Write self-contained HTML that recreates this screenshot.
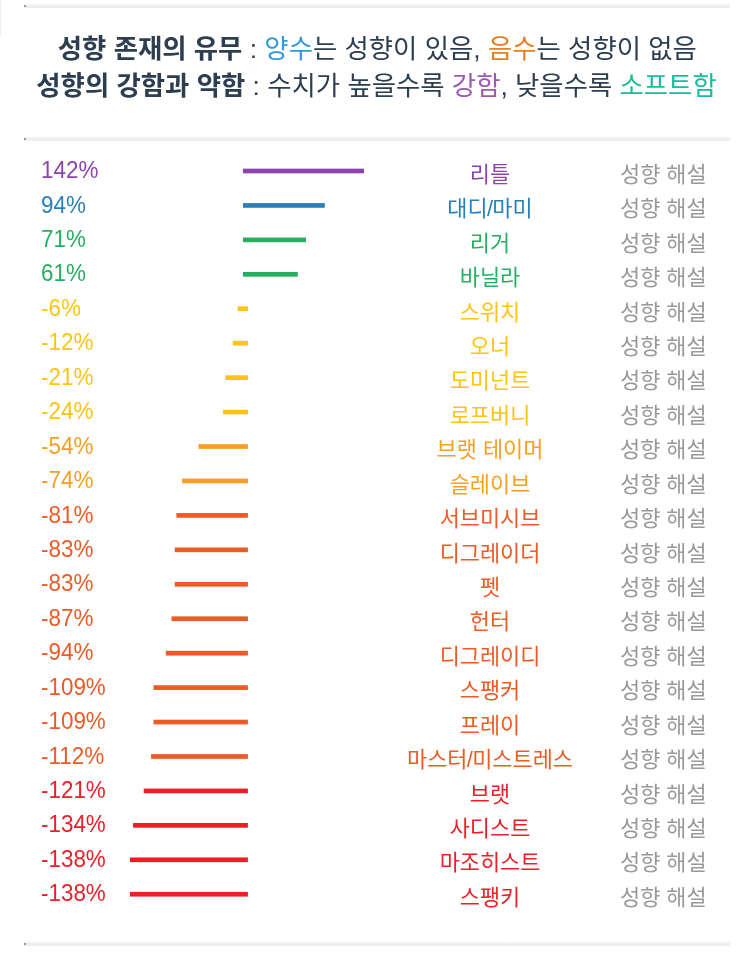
<!DOCTYPE html>
<html lang="ko"><head><meta charset="utf-8"><title>성향 결과</title>
<style>
html,body{margin:0;padding:0;background:#fff;}
body{width:750px;height:966px;position:relative;overflow:hidden;font-family:"Liberation Sans","Noto Sans CJK KR",sans-serif;}
.edge{position:absolute;left:0;top:0;width:1px;height:35px;background:#eee;}
hr{position:absolute;left:24px;width:706px;height:3.4px;margin:0;border:0;background:linear-gradient(#f6f6f6 0,#eee 45%);}
.dot{position:absolute;left:24.3px;width:1.6px;height:1.6px;background:#999;}
.head{position:absolute;left:0;width:750px;text-align:center;color:#2c3e50;font-size:26.4px;line-height:35px;white-space:nowrap;letter-spacing:0;}
.head b{color:#2c3e50;font-weight:700;}
.blue{color:#3498db}.org{color:#e67e22}.pur{color:#9b59b6}.teal{color:#1abc9c}
.row{position:absolute;left:0;width:750px;height:34.43px;line-height:34.43px;white-space:nowrap;}
.pct{position:absolute;left:40.5px;top:-0.6px;font-size:23.8px;transform:scaleX(0.942);transform-origin:0 0;}
.bars{position:absolute;left:0;top:0;}
.bars rect{fill:currentColor;}
.name i{font-style:normal;margin:0 -0.7px;}
.name{position:absolute;left:340px;width:300px;text-align:center;top:4px;font-size:21.9px;}
.desc{position:absolute;left:620px;top:4px;font-size:21.9px;color:#999;}
.c1{color:#8e44ad}.c2{color:#2980b9}.c3{color:#27ae60}.c4{color:#ffc312}.c5{color:#f79f1f}.c6{color:#ee5a24}.c7{color:#ea2027}
</style></head><body>
<div class="edge"></div>
<hr style="top:4.4px"><div class="dot" style="top:5.2px"></div>
<div class="head" style="top:32px;left:2.3px"><b>성향 존재의 유무</b> : <span class="blue">양수</span>는 성향이 있음, <span class="org">음수</span>는 성향이 없음</div>
<div class="head" style="top:68.5px;left:1.5px"><b>성향의 강함과 약함</b> : 수치가 높을수록 <span class="pur">강함</span>, 낮을수록 <span class="teal">소프트함</span></div>
<hr style="top:137.3px"><div class="dot" style="top:138.1px"></div>
<div class="row c1" style="top:153.80px"><span class="pct">142%</span><span class="name">리틀</span><span class="desc">성향 해설</span></div>
<div class="row c2" style="top:188.23px"><span class="pct">94%</span><span class="name">대디<i>/</i>마미</span><span class="desc">성향 해설</span></div>
<div class="row c3" style="top:222.66px"><span class="pct">71%</span><span class="name">리거</span><span class="desc">성향 해설</span></div>
<div class="row c3" style="top:257.09px"><span class="pct">61%</span><span class="name">바닐라</span><span class="desc">성향 해설</span></div>
<div class="row c4" style="top:291.52px"><span class="pct">-6%</span><span class="name">스위치</span><span class="desc">성향 해설</span></div>
<div class="row c4" style="top:325.95px"><span class="pct">-12%</span><span class="name">오너</span><span class="desc">성향 해설</span></div>
<div class="row c4" style="top:360.38px"><span class="pct">-21%</span><span class="name">도미넌트</span><span class="desc">성향 해설</span></div>
<div class="row c4" style="top:394.81px"><span class="pct">-24%</span><span class="name">로프버니</span><span class="desc">성향 해설</span></div>
<div class="row c5" style="top:429.24px"><span class="pct">-54%</span><span class="name">브랫 테이머</span><span class="desc">성향 해설</span></div>
<div class="row c5" style="top:463.67px"><span class="pct">-74%</span><span class="name">슬레이브</span><span class="desc">성향 해설</span></div>
<div class="row c6" style="top:498.10px"><span class="pct">-81%</span><span class="name">서브미시브</span><span class="desc">성향 해설</span></div>
<div class="row c6" style="top:532.53px"><span class="pct">-83%</span><span class="name">디그레이더</span><span class="desc">성향 해설</span></div>
<div class="row c6" style="top:566.96px"><span class="pct">-83%</span><span class="name">펫</span><span class="desc">성향 해설</span></div>
<div class="row c6" style="top:601.39px"><span class="pct">-87%</span><span class="name">헌터</span><span class="desc">성향 해설</span></div>
<div class="row c6" style="top:635.82px"><span class="pct">-94%</span><span class="name">디그레이디</span><span class="desc">성향 해설</span></div>
<div class="row c6" style="top:670.25px"><span class="pct">-109%</span><span class="name">스팽커</span><span class="desc">성향 해설</span></div>
<div class="row c6" style="top:704.68px"><span class="pct">-109%</span><span class="name">프레이</span><span class="desc">성향 해설</span></div>
<div class="row c6" style="top:739.11px"><span class="pct">-112%</span><span class="name">마스터<i>/</i>미스트레스</span><span class="desc">성향 해설</span></div>
<div class="row c7" style="top:773.54px"><span class="pct">-121%</span><span class="name">브랫</span><span class="desc">성향 해설</span></div>
<div class="row c7" style="top:807.97px"><span class="pct">-134%</span><span class="name">사디스트</span><span class="desc">성향 해설</span></div>
<div class="row c7" style="top:842.40px"><span class="pct">-138%</span><span class="name">마조히스트</span><span class="desc">성향 해설</span></div>
<div class="row c7" style="top:876.83px"><span class="pct">-138%</span><span class="name">스팽키</span><span class="desc">성향 해설</span></div>
<svg class="bars" width="750" height="966" viewBox="0 0 750 966">
<rect class="c1" x="243.0" y="168.65" width="121.0" height="4.7"/>
<rect class="c2" x="243.0" y="203.09" width="81.8" height="4.7"/>
<rect class="c3" x="243.0" y="237.53" width="63.0" height="4.7"/>
<rect class="c3" x="243.0" y="271.97" width="54.8" height="4.7"/>
<rect class="c4" x="237.7" y="306.41" width="10.2" height="4.7"/>
<rect class="c4" x="232.8" y="340.85" width="15.1" height="4.7"/>
<rect class="c4" x="225.4" y="375.29" width="22.5" height="4.7"/>
<rect class="c4" x="223.0" y="409.73" width="24.9" height="4.7"/>
<rect class="c5" x="198.5" y="444.17" width="49.4" height="4.7"/>
<rect class="c5" x="182.1" y="478.61" width="65.8" height="4.7"/>
<rect class="c6" x="176.4" y="513.05" width="71.5" height="4.7"/>
<rect class="c6" x="174.8" y="547.49" width="73.1" height="4.7"/>
<rect class="c6" x="174.8" y="581.93" width="73.1" height="4.7"/>
<rect class="c6" x="171.5" y="616.37" width="76.4" height="4.7"/>
<rect class="c6" x="165.8" y="650.81" width="82.1" height="4.7"/>
<rect class="c6" x="153.5" y="685.25" width="94.4" height="4.7"/>
<rect class="c6" x="153.5" y="719.69" width="94.4" height="4.7"/>
<rect class="c6" x="151.1" y="754.13" width="96.8" height="4.7"/>
<rect class="c7" x="143.7" y="788.57" width="104.2" height="4.7"/>
<rect class="c7" x="133.1" y="823.01" width="114.8" height="4.7"/>
<rect class="c7" x="129.9" y="857.45" width="118.0" height="4.7"/>
<rect class="c7" x="129.9" y="891.89" width="118.0" height="4.7"/>
</svg>
<hr style="top:942.4px"><div class="dot" style="top:943.2px"></div>
</body></html>
